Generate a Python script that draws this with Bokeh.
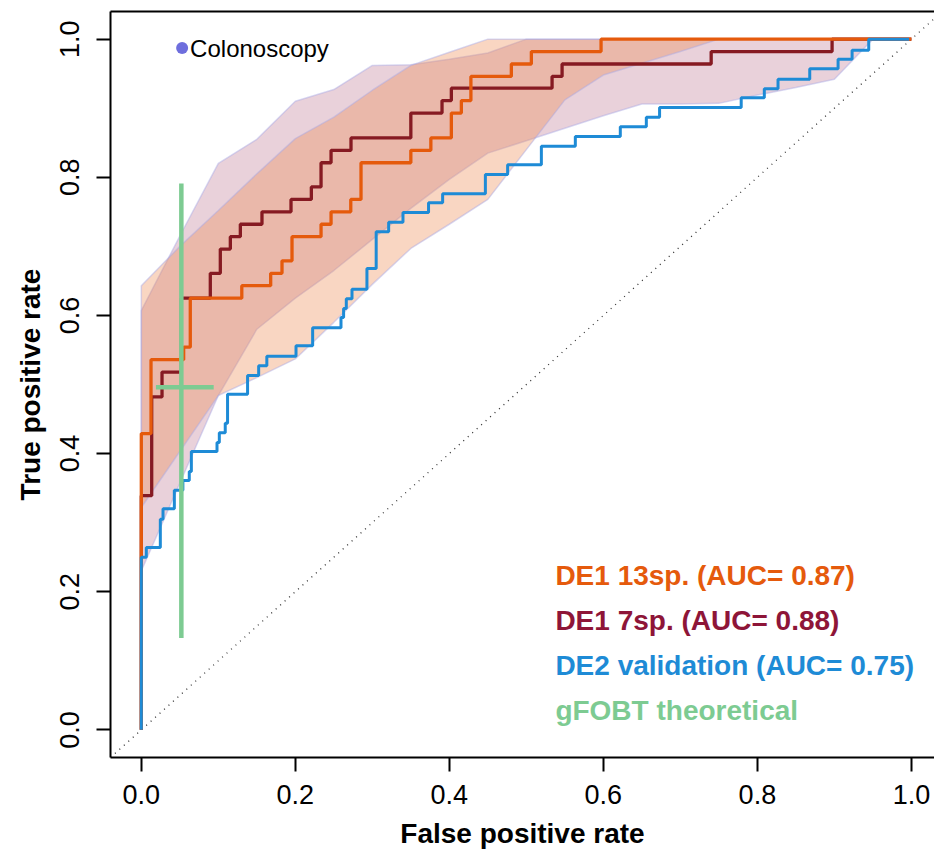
from bokeh.plotting import figure
from bokeh.models import Range1d, FixedTicker, PrintfTickFormatter, LinearAxis
from bokeh.core.properties import value
from bokeh.embed import file_html
from bokeh.resources import INLINE

# ---------------- data ----------------
# ROC step curves: (fpr, tpr) corner points, drawn as steps (mode="after")
de1_13_fpr = [0, 0, 0.0126, 0.055, 0.0636, 0.1305, 0.168, 0.1827, 0.1957, 0.2334, 0.2464,
              0.272, 0.2853, 0.350, 0.376, 0.4026, 0.4156, 0.428, 0.4805, 0.5065, 0.597, 1.0]
de1_13_tpr = [0, 0.429, 0.536, 0.554, 0.625, 0.643, 0.661, 0.679, 0.714, 0.732, 0.750,
              0.768, 0.821, 0.839, 0.857, 0.893, 0.911, 0.946, 0.964, 0.982, 1.0, 1.0]

de1_7_fpr = [0, 0, 0.0135, 0.0269, 0.052, 0.0896, 0.1026, 0.1156, 0.1286, 0.1567, 0.1944,
             0.2208, 0.2334, 0.2464, 0.2723, 0.350, 0.3905, 0.4026, 0.5334, 0.5464, 0.740, 0.897, 1.0]
de1_7_tpr = [0, 0.339, 0.482, 0.518, 0.625, 0.661, 0.696, 0.714, 0.732, 0.750, 0.768,
             0.786, 0.821, 0.839, 0.857, 0.893, 0.911, 0.929, 0.946, 0.964, 0.982, 1.0, 1.0]

de2_fpr = [0, 0, 0.0065, 0.0247, 0.0282, 0.0429, 0.054, 0.0623, 0.065, 0.0983, 0.1013, 0.109,
           0.112, 0.138, 0.1524, 0.163, 0.2009, 0.2225, 0.2593, 0.2627, 0.2662, 0.2736, 0.2930,
           0.305, 0.3212, 0.3398, 0.373, 0.3913, 0.4468, 0.4757, 0.5195, 0.5636, 0.622, 0.6558,
           0.673, 0.779, 0.809, 0.8268, 0.868, 0.9048, 0.923, 0.9446, 0.997]
de2_tpr = [0, 0.250, 0.264, 0.305, 0.320, 0.347, 0.361, 0.374, 0.403, 0.416, 0.430, 0.444,
           0.486, 0.513, 0.527, 0.541, 0.556, 0.582, 0.597, 0.610, 0.624, 0.638, 0.668,
           0.721, 0.735, 0.749, 0.763, 0.776, 0.804, 0.818, 0.845, 0.859, 0.873, 0.887,
           0.901, 0.915, 0.928, 0.942, 0.957, 0.971, 0.984, 1.0, 1.0]

# confidence bands of sensitivity at fixed specificities
band_fpr = [0.0, 0.05, 0.10, 0.15, 0.20, 0.25, 0.30, 0.35, 0.40, 0.45, 0.50,
            0.55, 0.60, 0.65, 0.70, 0.75, 0.80, 0.85, 0.90, 0.95, 1.0]
de1_13_ci_hi = [0.643, 0.700, 0.752, 0.805, 0.856, 0.887, 0.926, 0.962, 0.981, 1.0, 1.0,
                1.0, 1.0, 1.0, 1.0, 1.0, 1.0, 1.0, 1.0, 1.0, 1.0]
de1_13_ci_lo = [0.322, 0.403, 0.484, 0.510, 0.537, 0.590, 0.645, 0.697, 0.732, 0.768, 0.840,
                0.912, 0.948, 0.965, 0.982, 1.0, 1.0, 1.0, 1.0, 1.0, 1.0]
de1_7_ci_hi = [0.607, 0.715, 0.820, 0.855, 0.910, 0.927, 0.962, 0.963, 0.971, 0.980, 1.0,
               1.0, 1.0, 1.0, 1.0, 1.0, 1.0, 1.0, 1.0, 1.0, 1.0]
de1_7_ci_lo = [0.230, 0.357, 0.484, 0.580, 0.625, 0.665, 0.710, 0.755, 0.797, 0.835, 0.853,
               0.871, 0.889, 0.906, 0.906, 0.907, 0.919, 0.930, 0.942, 1.0, 1.0]

# gFOBT theoretical (point with CI bars)
gfobt_fpr, gfobt_fpr_lo, gfobt_fpr_hi = 0.052, 0.019, 0.094
gfobt_tpr, gfobt_tpr_lo, gfobt_tpr_hi = 0.496, 0.133, 0.791

# colonoscopy point
colo_fpr, colo_tpr = 0.053, 0.987

chance_line = [-0.04, 1.04]

legend_labels = ["DE1 13sp. (AUC= 0.87)", "DE1 7sp. (AUC= 0.88)",
                 "DE2 validation (AUC= 0.75)", "gFOBT theoretical"]
tick_values = [0.0, 0.2, 0.4, 0.6, 0.8, 1.0]

# ---------------- styles ----------------
C_13 = "#E55A0C"
C_7 = "#861A22"
C_DE2 = "#1E8BD6"
C_G = "#7DCB92"
C_COLO = "#6E6EDD"
FONT = value("Liberation Sans")

p = figure(width=934, height=858, x_range=Range1d(-0.04, 1.03), y_range=Range1d(-0.04, 1.04),
           output_backend="svg", toolbar_location=None,
           min_border_left=110, min_border_right=0, min_border_top=11, min_border_bottom=101)
p.grid.visible = False
p.outline_line_color = None
p.background_fill_color = "white"

# bands
p.patch(band_fpr + band_fpr[::-1], de1_7_ci_hi + de1_7_ci_lo[::-1],
        fill_color="#A8486A", fill_alpha=0.25, line_color="#A8A8E4", line_alpha=0.45, line_width=1.5)
p.patch(band_fpr + band_fpr[::-1], de1_13_ci_hi + de1_13_ci_lo[::-1],
        fill_color="#EE8A50", fill_alpha=0.35, line_color="#A8A8E4", line_alpha=0.45, line_width=1.5)

# chance diagonal
p.line(chance_line, chance_line, line_color="#333333", line_dash="1 5", line_width=1.3)

# ROC curves
p.step(de1_7_fpr, de1_7_tpr, mode="after", line_color=C_7, line_width=3.3)
p.step(de1_13_fpr, de1_13_tpr, mode="after", line_color=C_13, line_width=3.3)
p.step(de2_fpr, de2_tpr, mode="after", line_color=C_DE2, line_width=3.0)

# gFOBT
p.segment(x0=[gfobt_fpr, gfobt_fpr_lo], y0=[gfobt_tpr_lo, gfobt_tpr],
          x1=[gfobt_fpr, gfobt_fpr_hi], y1=[gfobt_tpr_hi, gfobt_tpr],
          line_color=C_G, line_width=4.5)

# colonoscopy
p.scatter([colo_fpr], [colo_tpr], size=12, fill_color=C_COLO, line_color=None)
p.text([colo_fpr], [colo_tpr], text=["Colonoscopy"], x_offset=8, text_baseline="middle",
       text_align="left", text_font=FONT, text_font_size="24px", text_color="black")

# legend (coloured text)
leg_x = 0.5377
leg_y0, leg_dy = 0.223, 0.0652
leg_cols = [C_13, "#8E1538", "#1E8BD6", C_G]
p.text([leg_x] * 4, [leg_y0 - i * leg_dy for i in range(4)], text=legend_labels,
       text_color=leg_cols, text_baseline="middle", text_align="left",
       text_font=FONT, text_font_size="28px", text_font_style="bold")

# axes
for ax in (p.xaxis[0], p.yaxis[0]):
    ax.ticker = FixedTicker(ticks=tick_values)
    ax.formatter = PrintfTickFormatter(format="%.1f")
    ax.major_tick_in = 0
    ax.major_tick_out = 14
    ax.minor_tick_line_color = None
    ax.major_tick_line_width = 2
    ax.axis_line_width = 2
    ax.axis_line_color = "black"
    ax.major_tick_line_color = "black"
    ax.major_label_text_font = "Liberation Sans"
    ax.major_label_text_font_size = "27px"
    ax.major_label_text_color = "black"
    ax.axis_label_text_font = "Liberation Sans"
    ax.axis_label_text_font_size = "28px"
    ax.axis_label_text_font_style = "bold"
    ax.axis_label_text_color = "black"

p.xaxis.axis_label = "False positive rate"
p.xaxis.major_label_standoff = 13
p.xaxis.axis_label_standoff = 11
p.yaxis.axis_label = "True positive rate"
p.yaxis.major_label_orientation = "vertical"
p.yaxis.major_label_standoff = 17
p.yaxis.axis_label_standoff = 12

top = LinearAxis(ticker=FixedTicker(ticks=[]), major_tick_out=0, major_tick_in=0,
                 major_label_standoff=0, minor_tick_line_color=None,
                 axis_line_width=2, axis_line_color="black")
p.add_layout(top, "above")

open("out.html", "w").write(file_html(p, INLINE))
